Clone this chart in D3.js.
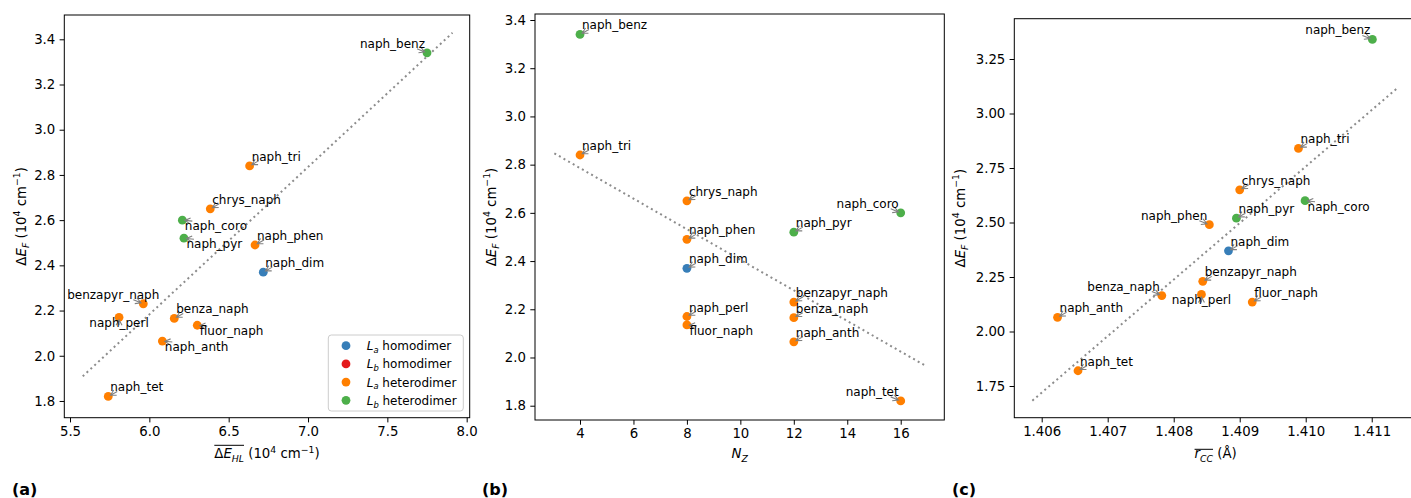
<!DOCTYPE html>
<html>
<head>
<meta charset="utf-8">
<script src="https://cdn.jsdelivr.net/npm/d3@7"></script>
<style>
  body { margin: 0; background: #fff; }
  svg { display: block; font-family: 'DejaVu Sans', sans-serif; }
  svg text { white-space: pre; }
</style>
</head>
<body>
<svg id="fig" width="1411" height="498"></svg>
<script>
// --- datos ---
const names = ['naph_benz', 'naph_tri', 'chrys_naph', 'naph_coro', 'naph_pyr', 'naph_phen', 'naph_dim',
  'benzapyr_naph', 'naph_perl', 'benza_naph', 'fluor_naph', 'naph_anth', 'naph_tet'];
// 0: La homo, 1: Lb homo, 2: La hetero, 3: Lb hetero
const groupOf = [3, 2, 2, 3, 3, 2, 0, 2, 2, 2, 2, 2, 2];
const deltaEF = [3.34, 2.84, 2.65, 2.60, 2.52, 2.49, 2.37, 2.23, 2.17, 2.165, 2.135, 2.065, 1.82];
const deltaEHL = [7.75, 6.632, 6.384, 6.208, 6.218, 6.666, 6.718, 5.962, 5.809, 6.157, 6.302, 6.082, 5.741];
const nZ = [4, 4, 8, 16, 12, 8, 8, 12, 8, 12, 8, 12, 16];
const rCC = [1.41101, 1.40989, 1.40900, 1.40999, 1.40895, 1.40854, 1.40883, 1.40844, 1.40842, 1.40782,
  1.40919, 1.40624, 1.40655];

const legendNames = [['a', ' homodimer'], ['b', ' homodimer'], ['a', ' heterodimer'], ['b', ' heterodimer']];
const colors = ['#377eb8', '#e41a1c', '#ff7f00', '#4daf4a'];

const xTicksA = [5.5, 6.0, 6.5, 7.0, 7.5, 8.0];
const xTicksB = [4, 6, 8, 10, 12, 14, 16];
const xTicksC = [1.406, 1.407, 1.408, 1.409, 1.410, 1.411];
const yTicksAB = [1.8, 2.0, 2.2, 2.4, 2.6, 2.8, 3.0, 3.2, 3.4];
const yTicksC = [1.75, 2.00, 2.25, 2.50, 2.75, 3.00, 3.25];

// posición de cada etiqueta (ne: arriba-derecha, nw: arriba-izquierda, se: abajo-derecha, s: abajo)
const placeA = ['nw', 'ne', 'ne', 'se', 'se', 'ne', 'ne', ['nw', 16], 's', 'ne', 'se', 'se', 'ne'];
const placeB = ['ne', 'ne', 'ne', 'nw', 'ne', 'ne', 'ne', 'ne', 'ne', 'ne', 'se', 'ne', 'nw'];
const placeC = ['nw', 'ne', 'ne', 'se', 'ne', 'nw', 'ne', 'ne', 's', 'nw', 'ne', 'ne', 'ne'];

const svg = d3.select('#fig');
const TICK = 13.3, ANN = 12;

// Texto con sub/superíndices estilo mathtext
function mathText(text, parts, size) {
  let shift = 0;
  parts.forEach(p => {
    const target = p.sub ? 0.24 * size : p.sup ? -0.42 * size : 0;
    const ts = text.append('tspan').text(p.t)
      .attr('dy', target - shift)
      .attr('font-size', (p.sub || p.sup) ? size * 0.7 : size);
    if (p.it) ts.attr('font-style', 'italic');
    shift = target;
  });
  return text;
}

// Etiqueta de eje con parte sobrerayada opcional, centrada en cx
function axisLabel(g, cx, y, over, rest, overH) {
  const grp = g.append('g');
  const t1 = mathText(grp.append('text').attr('x', 0).attr('y', 0), over, TICK);
  const w1 = t1.node().getComputedTextLength();
  let w = w1;
  if (rest) {
    const t2 = mathText(grp.append('text').attr('x', w1).attr('y', 0), rest, TICK);
    w += t2.node().getComputedTextLength();
  }
  if (overH) {
    grp.append('line').attr('x1', 0).attr('x2', w1).attr('y1', -overH).attr('y2', -overH)
      .attr('stroke', '#000').attr('stroke-width', 1);
  }
  grp.attr('transform', `translate(${cx - w / 2},${y})`);
}

const yLabelParts = [{ t: 'Δ' }, { t: 'E', it: 1 }, { t: 'F', it: 1, sub: 1 }, { t: ' (10' }, { t: '4', sup: 1 },
  { t: ' cm' }, { t: '−1', sup: 1 }, { t: ')' }];
const unitParts = [{ t: ' (10' }, { t: '4', sup: 1 }, { t: ' cm' }, { t: '−1', sup: 1 }, { t: ')' }];

const panels = [
  { tag: '(a)', xs: deltaEHL, place: placeA, left: 64.3, right: 469.7, top: 15, bottom: 417.7,
    xDom: [5.464, 8.019], yDom: [1.726, 3.5075], xTicks: xTicksA, yTicks: yTicksAB, xf: '.1f', yf: '.1f',
    yLabX: 26, tagX: 12,
    xLabel: [[{ t: 'Δ' }, { t: 'E', it: 1 }, { t: 'HL', it: 1, sub: 1 }], unitParts, 13] },
  { tag: '(b)', xs: nZ, place: placeB, left: 535, right: 944.3, top: 14, bottom: 420,
    xDom: [2.316, 17.631], yDom: [1.7407, 3.4249], xTicks: xTicksB, yTicks: yTicksAB, xf: 'd', yf: '.1f',
    yLabX: 495.5, tagX: 482,
    xLabel: [[{ t: 'N', it: 1 }, { t: 'Z', it: 1, sub: 1 }], null, 0] },
  { tag: '(c)', xs: rCC, place: placeC, left: 1014.3, right: 1417, top: 18.7, bottom: 417.7,
    xDom: [1.405585, 1.411686], yDom: [1.6046, 3.4349], xTicks: xTicksC, yTicks: yTicksC, xf: '.3f', yf: '.2f',
    yLabX: 965, tagX: 952,
    xLabel: [[{ t: 'r', it: 1 }, { t: 'CC', it: 1, sub: 1 }], [{ t: ' (Å)' }], 9] }
];

const textPlace = { ne: ['start', 2, -5], nw: ['end', -2, -5], se: ['start', 2.5, 10], s: ['middle', 0, 10] };
const arrowFrom = { ne: [9, -5], nw: [-10, -4], se: [10, 1], s: [0, 8] };

function arrowPath(sx, sy, ex, ey) {
  const dx = ex - sx, dy = ey - sy, len = Math.hypot(dx, dy);
  const ux = dx / len, uy = dy / len;
  const tx = ex - ux * 2.5, ty = ey - uy * 2.5;
  const hl = 5.5, hw = 3;
  const bx = tx - ux * hl, by = ty - uy * hl;
  return `M${sx},${sy}L${tx},${ty}M${bx - uy * hw},${by + ux * hw}L${tx},${ty}L${bx + uy * hw},${by - ux * hw}`;
}

panels.forEach(p => {
  const x = d3.scaleLinear().domain(p.xDom).range([p.left, p.right]);
  const y = d3.scaleLinear().domain(p.yDom).range([p.bottom, p.top]);
  const g = svg.append('g');

  // ejes
  const ax = g.append('g').attr('transform', `translate(0,${p.bottom})`)
    .call(d3.axisBottom(x).tickValues(p.xTicks).tickFormat(d3.format(p.xf)).tickSize(4.7).tickPadding(4.3));
  const ay = g.append('g').attr('transform', `translate(${p.left},0)`)
    .call(d3.axisLeft(y).tickValues(p.yTicks).tickFormat(d3.format(p.yf)).tickSize(4.7).tickPadding(4.3));
  [ax, ay].forEach(a => {
    a.select('.domain').remove();
    a.selectAll('line').attr('stroke', '#000').attr('stroke-width', 1);
    a.selectAll('text').attr('font-size', TICK).attr('font-family', "'DejaVu Sans'").attr('fill', '#000');
  });

  // recta de regresión (mínimos cuadrados)
  const mx = d3.mean(p.xs), my = d3.mean(deltaEF);
  const slope = d3.sum(p.xs, (v, i) => (v - mx) * (deltaEF[i] - my)) / d3.sum(p.xs, v => (v - mx) ** 2);
  const [x0, x1] = d3.extent(p.xs), pad = (x1 - x0) * 0.08;
  const fitX = [x0 - pad, x1 + pad];
  g.append('path')
    .datum(fitX)
    .attr('d', d3.line().x(d => x(d)).y(d => y(my + slope * (d - mx))))
    .attr('fill', 'none').attr('stroke', '#8c8c8c').attr('stroke-width', 2)
    .attr('stroke-dasharray', '2,3.3');

  // puntos
  g.selectAll('circle.pt').data(names).join('circle')
    .attr('class', 'pt')
    .attr('cx', (d, i) => x(p.xs[i]))
    .attr('cy', (d, i) => y(deltaEF[i]))
    .attr('r', 4.4)
    .attr('fill', (d, i) => colors[groupOf[i]]);

  // anotaciones con flecha
  names.forEach((n, i) => {
    const px = x(p.xs[i]), py = y(deltaEF[i]);
    const pl = Array.isArray(p.place[i]) ? p.place[i] : [p.place[i]];
    const [anchor, dx0, dy] = textPlace[pl[0]];
    const dx = pl.length > 1 ? pl[1] : dx0;
    const af = arrowFrom[pl[0]];
    g.append('path')
      .attr('d', arrowPath(px + af[0], py + af[1], px, py))
      .attr('fill', 'none').attr('stroke', '#808080').attr('stroke-width', 1.1);
    g.append('text')
      .attr('x', px + dx).attr('y', py + dy)
      .attr('text-anchor', anchor)
      .attr('font-size', ANN)
      .text(n);
  });

  // marco
  g.append('rect')
    .attr('x', p.left).attr('y', p.top)
    .attr('width', p.right - p.left).attr('height', p.bottom - p.top)
    .attr('fill', 'none').attr('stroke', '#000').attr('stroke-width', 1);

  // etiquetas de ejes
  axisLabel(g, (p.left + p.right) / 2, 458.3, p.xLabel[0], p.xLabel[1], p.xLabel[2]);
  const yl = g.append('text')
    .attr('transform', `translate(${p.yLabX},${(p.top + p.bottom) / 2}) rotate(-90)`)
    .attr('text-anchor', 'middle');
  mathText(yl, yLabelParts, TICK);

  g.append('text')
    .attr('x', p.tagX).attr('y', 494.5)
    .attr('font-size', 16).attr('font-weight', 'bold')
    .text(p.tag);
});

// leyenda del panel (a)
const leg = svg.append('g');
leg.append('rect')
  .attr('x', 328.3).attr('y', 335).attr('width', 135).attr('height', 76).attr('rx', 3)
  .attr('fill', '#fff').attr('fill-opacity', 0.8).attr('stroke', '#cccccc').attr('stroke-width', 1);
legendNames.forEach((l, i) => {
  const ly = 345.7 + i * 18.2;
  leg.append('circle').attr('cx', 346).attr('cy', ly).attr('r', 4.4).attr('fill', colors[i]);
  const t = leg.append('text').attr('x', 366.7).attr('y', ly + 4.5);
  mathText(t, [{ t: 'L', it: 1 }, { t: l[0], it: 1, sub: 1 }, { t: l[1] }], ANN);
});
</script>
</body>
</html>
